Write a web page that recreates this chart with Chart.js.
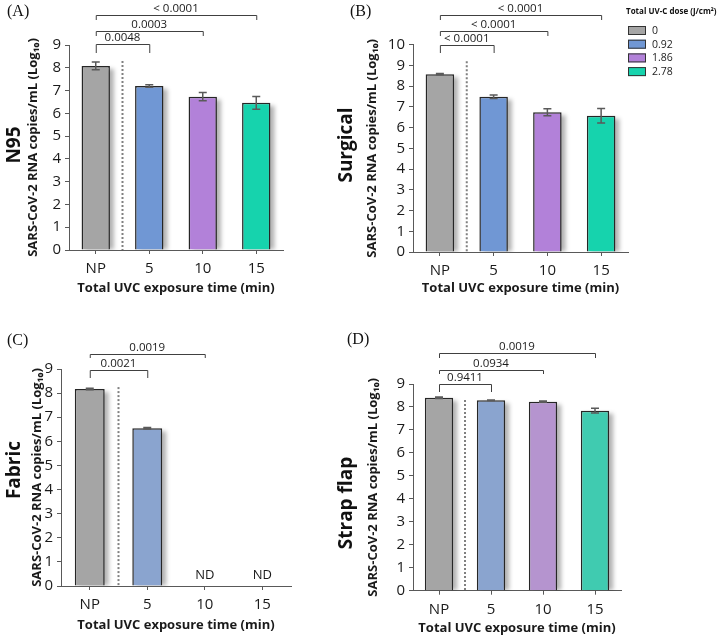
<!DOCTYPE html>
<html>
<head>
<meta charset="utf-8">
<script src="https://cdn.jsdelivr.net/npm/chart.js@4.4.0/dist/chart.umd.min.js"></script>
<style>
body { margin: 0; background: #fff; }
#wrap { position: relative; width: 727px; height: 636px; overflow: hidden; background: #fff; }
#wrap canvas { position: absolute; }
</style>
</head>
<body>
<div id="wrap">
  <canvas id="panelA"></canvas>
  <canvas id="panelB"></canvas>
  <canvas id="panelC"></canvas>
  <canvas id="panelD"></canvas>
</div>
<script>
var categories = ['NP', '5', '10', '15'];
var doseLabels = ['0', '0.92', '1.86', '2.78'];

var n95Mean = [8.08, 7.2, 6.73, 6.46];
var n95Err = [0.17, 0.05, 0.18, 0.28];
var n95P = ['0.0048', '0.0003', '< 0.0001'];

var surgicalMean = [8.58, 7.49, 6.74, 6.57];
var surgicalErr = [0.03, 0.08, 0.17, 0.35];
var surgicalP = ['< 0.0001', '< 0.0001', '< 0.0001'];

var fabricMean = [8.17, 6.54, null, null];
var fabricErr = [0.03, 0.03, null, null];
var fabricP = ['0.0021', '0.0019'];

var strapMean = [8.4, 8.29, 8.23, 7.84];
var strapErr = [0.03, 0.01, 0.03, 0.1];
var strapP = ['0.9411', '0.0934', '0.0019'];

var brightColors = ['#a5a5a5', '#7097d4', '#b281d9', '#16d3ad'];
var softColors = ['#a5a5a5', '#8aa4cf', '#b594cf', '#40cbb0'];

Chart.defaults.font.family = "'Open Sans', sans-serif";
Chart.defaults.color = '#1a1a1a';

var titleSize = 13;
var halfTitle = titleSize * 1.2 / 2;

// everything that is not a bar: shadows, error bars, brackets, labels
var extrasPlugin = {
  id: 'extras',
  beforeDatasetsDraw: function(chart, args, o) {
    var ctx = chart.ctx;
    var meta = chart.getDatasetMeta(0);
    var vals = chart.data.datasets[0].data;
    var ca = chart.chartArea;
    ctx.save();
    ctx.beginPath();
    ctx.rect(ca.left, ca.top - 20, ca.right - ca.left + 10, ca.bottom - ca.top + 20);
    ctx.clip();
    ctx.filter = 'blur(2px)';
    ctx.fillStyle = 'rgba(0,0,0,0.3)';
    meta.data.forEach(function(bar, i) {
      if (vals[i] == null) return;
      ctx.fillRect(bar.x - bar.width / 2 + 4, bar.y + 3, bar.width, bar.base - bar.y - 3);
    });
    ctx.restore();
  },
  afterDatasetsDraw: function(chart, args, o) {
    var ctx = chart.ctx;
    var xs = chart.scales.x, ys = chart.scales.y;
    var meta = chart.getDatasetMeta(0);
    var vals = chart.data.datasets[0].data;
    var ca = chart.chartArea;

    // dotted separator between NP and treated bars
    var sx = (xs.getPixelForValue(0) + xs.getPixelForValue(1)) / 2;
    ctx.save();
    ctx.strokeStyle = '#808080';
    ctx.lineWidth = 2;
    ctx.setLineDash([2, 2]);
    ctx.beginPath();
    ctx.moveTo(sx, ys.getPixelForValue(o.sepTop));
    ctx.lineTo(sx, ca.bottom);
    ctx.stroke();
    ctx.restore();

    // error bars
    ctx.save();
    ctx.strokeStyle = '#5a5a5a';
    ctx.lineWidth = 1.5;
    meta.data.forEach(function(bar, i) {
      if (vals[i] == null) return;
      var e = o.err[i];
      var y1 = ys.getPixelForValue(vals[i] + e), y2 = ys.getPixelForValue(vals[i] - e);
      ctx.beginPath();
      ctx.moveTo(bar.x, y1); ctx.lineTo(bar.x, y2);
      ctx.moveTo(bar.x - 4, y1); ctx.lineTo(bar.x + 4, y1);
      ctx.moveTo(bar.x - 4, y2); ctx.lineTo(bar.x + 4, y2);
      ctx.stroke();
    });
    ctx.restore();

    // ND labels
    ctx.save();
    ctx.fillStyle = '#1a1a1a';
    ctx.font = "13px 'Open Sans'";
    ctx.textAlign = 'center';
    ctx.textBaseline = 'middle';
    vals.forEach(function(v, i) {
      if (v == null) ctx.fillText('ND', xs.getPixelForValue(i), ca.bottom - 11);
    });
    ctx.restore();

    // significance brackets
    ctx.save();
    ctx.strokeStyle = '#404040';
    ctx.lineWidth = 1;
    ctx.fillStyle = '#1a1a1a';
    ctx.font = "11.5px 'Open Sans'";
    ctx.textAlign = 'center';
    ctx.textBaseline = 'middle';
    o.pvals.forEach(function(p, k) {
      var x0 = xs.getPixelForValue(0), x1 = xs.getPixelForValue(k + 1);
      var y = o.bracketY[k] - o.top, d = o.bracketDrop[k];
      ctx.beginPath();
      ctx.moveTo(x0 + 0.5, y + d); ctx.lineTo(x0 + 0.5, y + 0.5);
      ctx.lineTo(x1 + 0.5, y + 0.5); ctx.lineTo(x1 + 0.5, y + d);
      ctx.stroke();
      ctx.fillText(p, (x0 + x1) / 2, y - 6);
    });
    ctx.restore();

    // panel name and letter
    ctx.save();
    ctx.fillStyle = '#111';
    ctx.font = "bold 19px 'Open Sans'";
    ctx.textAlign = 'center';
    ctx.textBaseline = 'middle';
    ctx.translate(o.nameX - o.left, o.nameY - o.top);
    ctx.rotate(-Math.PI / 2);
    ctx.fillText(o.name, 0, 0);
    ctx.restore();
    ctx.save();
    ctx.fillStyle = '#111';
    ctx.font = "16px 'Liberation Serif'";
    ctx.textBaseline = 'middle';
    ctx.fillText(o.letter, o.letterX - o.left, o.letterY - o.top);
    ctx.restore();

    // dose legend (only on panel B)
    if (o.legend) {
      var lx = o.legend.x - o.left, ly = o.legend.y - o.top;
      ctx.save();
      ctx.fillStyle = '#111';
      ctx.font = "bold 8px 'Open Sans'";
      ctx.textBaseline = 'middle';
      ctx.fillText('Total UV-C dose (J/cm²)', lx - 1, ly);
      ctx.font = "10.5px 'Open Sans'";
      doseLabels.forEach(function(lab, i) {
        var by = ly + 14 + i * 13.7;
        ctx.fillStyle = o.colors[i];
        ctx.fillRect(lx + 1, by, 18, 9);
        ctx.strokeStyle = '#333';
        ctx.lineWidth = 1;
        ctx.strokeRect(lx + 1.5, by + 0.5, 17, 8);
        ctx.fillStyle = '#222';
        ctx.fillText(lab, lx + 25, by + 5);
      });
      ctx.restore();
    }
  }
};

function makePanel(id, p) {
  var cv = document.getElementById(id);
  cv.width = p.w;
  cv.height = p.h;
  cv.style.left = p.x + 'px';
  cv.style.top = p.y + 'px';
  var padLeft = p.yTitleX - p.x - halfTitle;
  var aL = p.area[0] - p.x, aT = p.area[1] - p.y, aR = p.area[2] - p.x, aB = p.area[3] - p.y;
  var boxBottom = p.xTitleY - p.y + halfTitle;
  return new Chart(cv, {
    type: 'bar',
    data: {
      labels: categories,
      datasets: [{
        data: p.mean,
        backgroundColor: p.colors,
        borderColor: '#262626',
        borderWidth: 1.5,
        categoryPercentage: 1,
        barPercentage: p.barPct
      }]
    },
    options: {
      responsive: false,
      animation: false,
      events: [],
      layout: { padding: { left: padLeft, top: aT, right: p.w - aR, bottom: p.h - boxBottom } },
      plugins: {
        legend: { display: false },
        tooltip: { enabled: false },
        extras: {
          left: p.x, top: p.y, err: p.err, pvals: p.pvals,
          bracketY: p.bracketY, bracketDrop: p.bracketDrop, sepTop: p.sepTop,
          name: p.name, nameX: p.nameX, nameY: p.nameY,
          letter: p.letter, letterX: p.letterX, letterY: p.letterY,
          legend: p.legend, colors: p.colors
        }
      },
      scales: {
        x: {
          grid: { display: true, drawOnChartArea: false, offset: false, tickLength: 4, color: '#595959' },
          border: { color: '#595959' },
          ticks: { padding: 6, autoSkip: false, maxRotation: 0, font: { size: 15 }, color: '#1a1a1a' },
          title: { display: true, text: 'Total UVC exposure time (min)', padding: 0, font: { size: titleSize, weight: 'bold' }, color: '#1a1a1a' },
          afterFit: function(s) { s.height = boxBottom - aB; }
        },
        y: {
          min: 0,
          max: p.yMax,
          grid: { display: true, drawOnChartArea: false, tickLength: 4, color: '#595959' },
          border: { color: '#595959' },
          ticks: { stepSize: 1, autoSkip: false, padding: 4, font: { size: 15 }, color: '#1a1a1a' },
          title: { display: true, text: 'SARS-CoV-2 RNA copies/mL (Log₁₀)', padding: 0, font: { size: titleSize, weight: 'bold' }, color: '#1a1a1a' },
          afterFit: function(s) { s.width = aL - padLeft; }
        }
      }
    },
    plugins: [extrasPlugin]
  });
}

makePanel('panelA', {
  x: 0, y: 0, w: 335, h: 320, area: [69, 45, 283, 250], yMax: 9,
  mean: n95Mean, err: n95Err, pvals: n95P, colors: brightColors, barPct: 0.53,
  bracketY: [44, 31, 15], bracketDrop: [9, 5, 5], sepTop: 8.3,
  yTitleX: 33, xTitleY: 288,
  name: 'N95', nameX: 15, nameY: 145, letter: '(A)', letterX: 7, letterY: 12
});

makePanel('panelB', {
  x: 335, y: 0, w: 392, h: 320, area: [413, 44.7, 628, 252], yMax: 10,
  mean: surgicalMean, err: surgicalErr, pvals: surgicalP, colors: brightColors, barPct: 0.53,
  bracketY: [45, 31, 15], bracketDrop: [8, 5, 5], sepTop: 9.2,
  yTitleX: 372, xTitleY: 288,
  name: 'Surgical', nameX: 347, nameY: 145, letter: '(B)', letterX: 350, letterY: 12,
  legend: { x: 627, y: 12 }
});

makePanel('panelC', {
  x: 0, y: 320, w: 335, h: 316, area: [61, 369, 291, 586], yMax: 9,
  mean: fabricMean, err: fabricErr, pvals: fabricP, colors: softColors, barPct: 0.52,
  bracketY: [370, 354], bracketDrop: [8, 4], sepTop: 8.25,
  yTitleX: 37, xTitleY: 625,
  name: 'Fabric', nameX: 15, nameY: 470, letter: '(C)', letterX: 7, letterY: 341
});

makePanel('panelD', {
  x: 335, y: 320, w: 392, h: 316, area: [413, 384, 621, 590.7], yMax: 9,
  mean: strapMean, err: strapErr, pvals: strapP, colors: softColors, barPct: 0.545,
  bracketY: [384, 370, 353], bracketDrop: [8, 4, 5], sepTop: 8.3,
  yTitleX: 373, xTitleY: 628,
  name: 'Strap flap', nameX: 347, nameY: 503, letter: '(D)', letterX: 347, letterY: 340
});
</script>
</body>
</html>
